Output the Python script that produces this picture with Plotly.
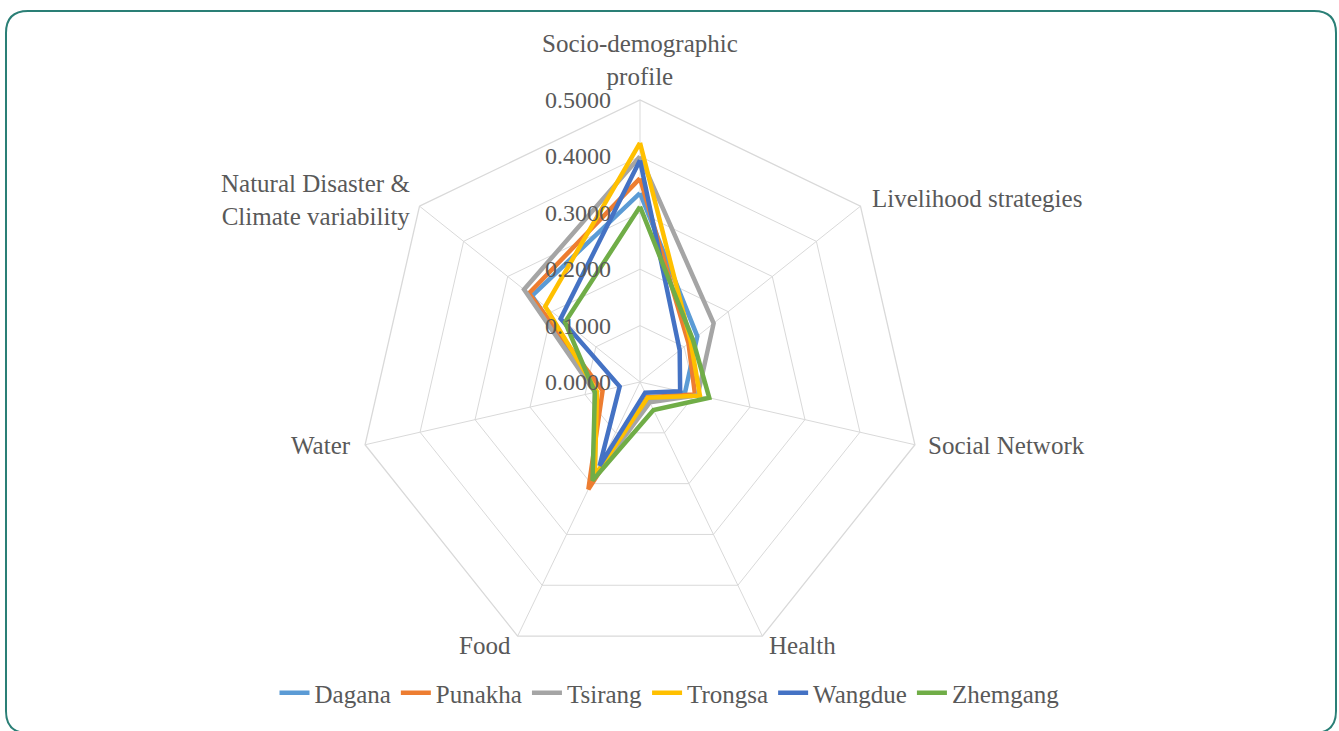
import math
import plotly.graph_objects as go

categories = ["Socio-demographic profile", "Livelihood strategies", "Social Network",
              "Health", "Food", "Water", "Natural Disaster & Climate variability"]
category_labels = ["Socio-demographic<br>profile", "Livelihood strategies", "Social Network",
                   "Health", "Food", "Water", "Natural Disaster &amp;<br>Climate variability"]
series_names = ["Dagana", "Punakha", "Tsirang", "Trongsa", "Wangdue", "Zhemgang"]
dagana   = [0.335, 0.130, 0.082, 0.035, 0.185, 0.080, 0.245]
punakha  = [0.361, 0.110, 0.100, 0.030, 0.211, 0.068, 0.252]
tsirang  = [0.400, 0.167, 0.105, 0.040, 0.190, 0.082, 0.263]
trongsa  = [0.424, 0.115, 0.109, 0.031, 0.185, 0.078, 0.215]
wangdue  = [0.393, 0.090, 0.073, 0.021, 0.165, 0.037, 0.180]
zhemgang = [0.311, 0.120, 0.126, 0.055, 0.194, 0.082, 0.170]
values = [dagana, punakha, tsirang, trongsa, wangdue, zhemgang]
colors = ["#5B9BD5", "#ED7D31", "#A5A5A5", "#FFC000", "#4472C4", "#70AD47"]
tick_vals = [0.0, 0.1, 0.2, 0.3, 0.4, 0.5]
r_max = 0.5

W, H = 1339, 731
cx, cy, R = 640, 382, 282

font = "Liberation Serif, Times New Roman, serif"
txt = "#595959"

def P(x, y):
    return x / W, 1 - y / H

fig = go.Figure()
for name, vals, col in zip(series_names, values, colors):
    fig.add_trace(go.Scatterpolar(
        r=vals + vals[:1], theta=categories + categories[:1], mode="lines",
        name=name, line=dict(color=col, width=4.5)))

fig.update_layout(
    width=W, height=H, margin=dict(l=0, r=0, t=0, b=0, autoexpand=False),
    paper_bgcolor="white", plot_bgcolor="white",
    font=dict(family=font, size=25, color=txt),
    polar=dict(
        gridshape="linear", bgcolor="white",
        domain=dict(x=[(cx - R) / W, (cx + R) / W], y=[1 - (cy + R) / H, 1 - (cy - R) / H]),
        radialaxis=dict(range=[0, r_max], tickvals=tick_vals, showticklabels=False,
                        angle=90, showline=False, ticks="",
                        gridcolor="#D9D9D9", gridwidth=1.3),
        angularaxis=dict(direction="clockwise", rotation=90, ticks="", showticklabels=False,
                         gridcolor="#D9D9D9", gridwidth=1.3,
                         linecolor="#D9D9D9", linewidth=1.3, showline=True),
    ),
    legend=dict(orientation="h", x=0.5, xanchor="center", y=1 - 693 / H, yanchor="middle",
                font=dict(size=25, color=txt), tracegroupgap=0,
                bgcolor="rgba(0,0,0,0)"),
)

# radial tick labels placed through the radial scale
for v in tick_vals:
    xp, yp = P(613, cy - R * v / r_max)
    fig.add_annotation(xref="paper", yref="paper", x=xp, y=yp,
                       text=f"{v:.4f}", showarrow=False, xanchor="right", yanchor="middle",
                       font=dict(size=24, color=txt, family=font))

# category labels at the outer vertices of the angular axis
label_style = [  # (dx, dy, xanchor, align)
    (0, -40, "center", "center"),
    (10, -8, "left", "left"),
    (11, 1, "left", "left"),
    (5, 9, "left", "left"),
    (-5, 9, "right", "right"),
    (-12, 1, "right", "right"),
    (-8, -6, "right", "right"),
]
n = len(categories)
for i, (lab, (dx, dy, xa, al)) in enumerate(zip(category_labels, label_style)):
    th = 2 * math.pi * i / n
    vx = cx + R * math.sin(th)
    vy = cy - R * math.cos(th)
    xp, yp = P(vx + dx, vy + dy)
    fig.add_annotation(xref="paper", yref="paper", x=xp, y=yp, text=lab,
                       showarrow=False, xanchor=xa, yanchor="middle", align=al,
                       font=dict(size=25, color=txt, family=font))

# rounded border
x0, y0, x1, y1, rr = 6, 11, 1336, 733, 22
pts = []
def mv(cmd, *xy):
    s = cmd
    for i in range(0, len(xy), 2):
        a, b = P(xy[i], xy[i + 1])
        s += f" {a:.5f},{b:.5f}"
    pts.append(s)
mv("M", x0 + rr, y0)
mv("L", x1 - rr, y0)
mv("Q", x1, y0, x1, y0 + rr)
mv("L", x1, y1 - rr)
mv("Q", x1, y1, x1 - rr, y1)
mv("L", x0 + rr, y1)
mv("Q", x0, y1, x0, y1 - rr)
mv("L", x0, y0 + rr)
mv("Q", x0, y0, x0 + rr, y0)
fig.add_shape(type="path", xref="paper", yref="paper", path=" ".join(pts) + " Z",
              line=dict(color="#2A7F76", width=2), fillcolor="rgba(0,0,0,0)")

fig.write_html("out.html", config={"displayModeBar": False},
               post_script="document.body.style.margin='0';document.body.style.overflow='hidden';")
